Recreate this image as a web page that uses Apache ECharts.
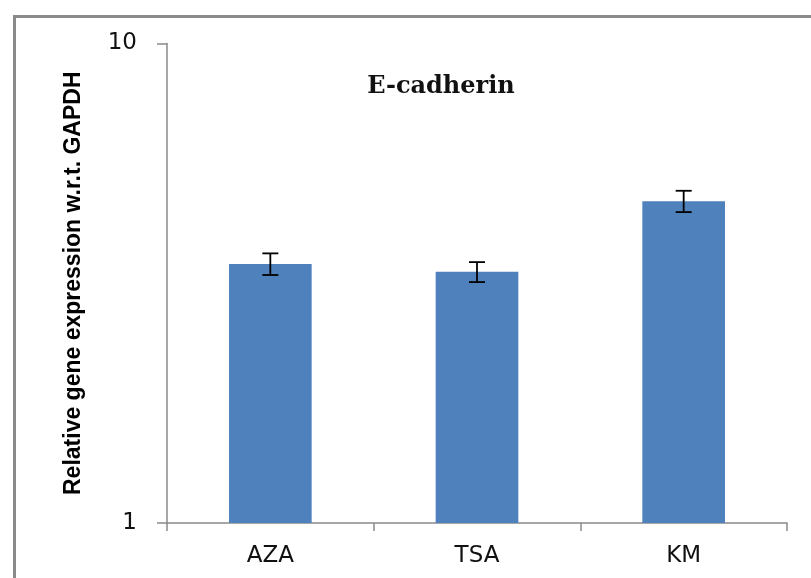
<!DOCTYPE html>
<html>
<head>
<meta charset="utf-8">
<script src="https://cdn.jsdelivr.net/npm/echarts@6/dist/echarts.min.js"></script>
<style>html,body{margin:0;padding:0;background:#fff}#c{width:811px;height:578px}</style>
</head>
<body>
<div id="c"></div>
<script>
const categories = ['AZA', 'TSA', 'KM'];
const values = [3.47, 3.34, 4.69];
const errors = [0.18, 0.16, 0.24];
const yTicks = [1, 10];
const titleText = 'E-cadherin';
const yAxisName = 'Relative gene expression w.r.t. GAPDH';

const chart = echarts.init(document.getElementById('c'), null, {renderer: 'canvas'});
const errData = categories.map((c, i) => [i, values[i] - errors[i], values[i] + errors[i]]);

chart.setOption({
  animation: false,
  backgroundColor: '#fff',
  title: {
    text: titleText,
    left: 441,
    top: 75,
    textAlign: 'center',
    padding: 0,
    textStyle: {fontFamily: 'DejaVu Serif', fontWeight: 'bold', fontSize: 24, color: '#111'}
  },
  graphic: [{
    type: 'rect', left: 12, top: 14, silent: true,
    shape: {width: 820, height: 600},
    style: {fill: 'none', stroke: '#8a8a8a', lineWidth: 3}
  }],
  grid: {left: 167, right: 24, top: 43.5, bottom: 55, containLabel: false},
  xAxis: {
    type: 'category',
    data: categories,
    boundaryGap: true,
    axisLine: {lineStyle: {color: '#8a8a8a', width: 1.5}},
    axisTick: {show: true, alignWithLabel: false, length: 8, lineStyle: {color: '#8a8a8a', width: 1.5}},
    axisLabel: {margin: 22, fontFamily: 'DejaVu Sans', fontSize: 23, color: '#111'}
  },
  yAxis: {
    type: 'log',
    logBase: 10,
    min: yTicks[0],
    max: yTicks[yTicks.length - 1],
    name: yAxisName,
    nameLocation: 'middle',
    nameRotate: 90,
    nameGap: 82,
    nameTextStyle: {fontFamily: 'Liberation Sans', fontWeight: 'bold', fontSize: 23, color: '#000'},
    axisLine: {show: true, lineStyle: {color: '#8a8a8a', width: 1.5}},
    axisTick: {show: true, length: 10, lineStyle: {color: '#8a8a8a', width: 1.5}},
    splitLine: {show: false},
    axisLabel: {margin: 30, fontFamily: 'DejaVu Sans', fontSize: 23, color: '#111',
      formatter: v => String(Math.round(v))}
  },
  series: [{
    type: 'bar',
    data: values,
    barWidth: '40%',
    itemStyle: {color: '#4f81bd'}
  }, {
    type: 'custom',
    data: errData,
    z: 10,
    renderItem: function (params, api) {
      const x = api.value(0);
      const lo = api.coord([x, api.value(1)]);
      const hi = api.coord([x, api.value(2)]);
      const hw = 8;
      const st = {stroke: '#000', lineWidth: 1.8};
      return {type: 'group', children: [
        {type: 'line', shape: {x1: lo[0], y1: lo[1], x2: hi[0], y2: hi[1]}, style: st},
        {type: 'line', shape: {x1: hi[0] - hw, y1: hi[1], x2: hi[0] + hw, y2: hi[1]}, style: st},
        {type: 'line', shape: {x1: lo[0] - hw, y1: lo[1], x2: lo[0] + hw, y2: lo[1]}, style: st}
      ]};
    }
  }]
});
</script>
</body>
</html>
